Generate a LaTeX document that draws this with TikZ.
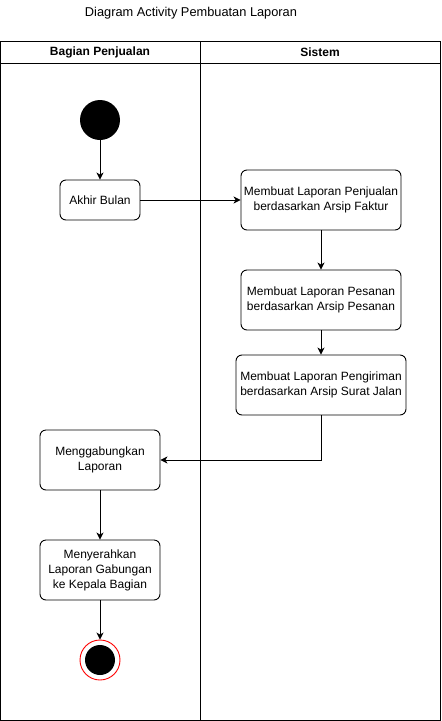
\documentclass[tikz,border=0pt]{standalone}
\usepackage{fontspec}
\setmainfont{Liberation Sans}
\usetikzlibrary{arrows.meta, calc}

\begin{document}
\begin{tikzpicture}[x=1pt, y=-1pt, line width=0.9pt,
    act/.style={draw, rounded corners=6pt, align=center, font=\fontsize{12}{15}\selectfont, inner sep=0pt},
    flow/.style={-{Stealth[length=7pt, width=7pt, inset=2pt]}}]
  \useasboundingbox (0,0) rectangle (442,721);
  % title and swimlanes
  \node[font=\fontsize{12.8}{15}\selectfont] (title) at (191,13) {Diagram Activity Pembuatan Laporan};
  \draw (0,41) rectangle (440,720);
  \draw (0,63) -- (440,63);
  \draw (200,41) -- (200,720);
  \node[font=\fontsize{12}{14}\selectfont\bfseries] (laneA) at (100,52) {Bagian Penjualan};
  \node[font=\fontsize{12}{14}\selectfont\bfseries] (laneB) at (320,52) {Sistem};
  % start and end
  \node[circle, fill, minimum size=40pt, inner sep=0pt] (start) at (100,120) {};
  \node[circle, draw=red, fill=white, minimum size=40pt, inner sep=0pt] (stop) at (100,660) {};
  \node[circle, fill, minimum size=30pt, inner sep=0pt] (stopdot) at (100,660) {};
  % activities
  \node[act, minimum width=80pt, minimum height=40pt] (akhir) at (100,200) {Akhir Bulan};
  \node[act, minimum width=160pt, minimum height=60pt] (lapjual) at (321,200) {Membuat Laporan Penjualan\\berdasarkan Arsip Faktur};
  \node[act, minimum width=160pt, minimum height=60pt] (lappesan) at (321,300) {Membuat Laporan Pesanan\\berdasarkan Arsip Pesanan};
  \node[act, minimum width=170pt, minimum height=60pt] (lapkirim) at (321,385) {Membuat Laporan Pengiriman\\berdasarkan Arsip Surat Jalan};
  \node[act, minimum width=120pt, minimum height=60pt] (gabung) at (100,460) {Menggabungkan\\Laporan};
  \node[act, minimum width=120pt, minimum height=60pt] (serah) at (100,570) {Menyerahkan\\Laporan Gabungan\\ke Kepala Bagian};
  % flows
  \draw[flow] (start) -- (akhir);
  \draw[flow] (akhir) -- (lapjual);
  \draw[flow] (lapjual) -- (lappesan);
  \draw[flow] (lappesan) -- (lapkirim);
  \draw[flow] (lapkirim.south) |- (gabung.east);
  \draw[flow] (gabung) -- (serah);
  \draw[flow] (serah) -- (stop);
\end{tikzpicture}
\end{document}
